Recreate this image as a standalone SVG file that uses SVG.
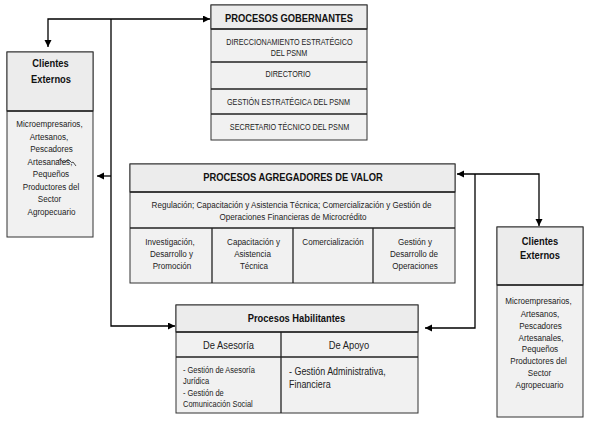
<svg xmlns="http://www.w3.org/2000/svg" width="598" height="425" viewBox="0 0 598 425">
<style>
.box{fill:#f1f1f1;stroke:#333;stroke-width:1}
.hdr{fill:#ececec;stroke:#333;stroke-width:1}
.div{stroke:#222;stroke-width:1.3;fill:none}
text{font-family:"Liberation Sans",Arial,sans-serif;fill:#222}
.t{font-size:9.5px;text-anchor:middle}
.s{font-size:8.5px;text-anchor:middle}
.b{font-size:11px;font-weight:bold;fill:#111;text-anchor:middle}
.m{font-size:11px;text-anchor:middle}
.l{font-size:8.8px}
.r{font-size:10.5px}
.c{stroke:#000;stroke-width:1.3;fill:none}
</style>
<defs>
<marker id="ah" markerUnits="userSpaceOnUse" markerWidth="8" markerHeight="8" refX="7" refY="3.5" orient="auto-start-reverse">
<path d="M0,0 L7,3.5 L0,7 z" fill="#000"/>
</marker>
</defs>
<rect width="598" height="425" fill="#fff"/>

<g id="connectors">
<path class="c" d="M48,47 V19 H210" marker-start="url(#ah)" marker-end="url(#ah)"/>
<path class="c" d="M111,19 V326 H175" marker-end="url(#ah)"/>
<path class="c" d="M111,176 H97" marker-end="url(#ah)"/>
<path class="c" d="M539,226 V174 H457" marker-start="url(#ah)" marker-end="url(#ah)"/>
<path class="c" d="M475,174 V328 H425" marker-end="url(#ah)"/>
</g>

<g id="gobernantes">
<rect class="box" x="211" y="5" width="156" height="135"/>
<rect class="hdr" x="211" y="5" width="156" height="24"/>
<line class="div" x1="211" y1="29" x2="367" y2="29"/>
<line class="div" x1="211" y1="62" x2="367" y2="62"/>
<line class="div" x1="211" y1="89" x2="367" y2="89"/>
<line class="div" x1="211" y1="114" x2="367" y2="114"/>
<text class="b" transform="translate(289 22) scale(.85 1)">PROCESOS GOBERNANTES</text>
<text class="s" transform="translate(289.5 45) scale(.85 1)">DIRECCIONAMIENTO ESTRATÉGICO</text>
<text class="s" transform="translate(289 56) scale(.85 1)">DEL PSNM</text>
<text class="s" transform="translate(288 77) scale(.85 1)">DIRECTORIO</text>
<text class="s" transform="translate(288.5 105) scale(.85 1)">GESTIÓN ESTRATÉGICA DEL PSNM</text>
<text class="s" transform="translate(289.5 130) scale(.85 1)">SECRETARIO TÉCNICO DEL PSNM</text>
</g>

<g id="clientes-izq">
<rect class="box" x="7" y="52" width="86" height="185"/>
<rect class="hdr" x="7" y="52" width="86" height="59"/>
<line class="div" x1="7" y1="111" x2="93" y2="111"/>
<text class="b" transform="translate(50.5 67) scale(.85 1)">Clientes</text>
<text class="b" transform="translate(51 83) scale(.85 1)">Externos</text>
<text class="t" transform="translate(49.5 127) scale(.85 1)">Microempresarios,</text>
<text class="t" transform="translate(49 139.5) scale(.85 1)">Artesanos,</text>
<text class="t" transform="translate(51.5 152) scale(.85 1)">Pescadores</text>
<text class="t" transform="translate(50 164.5) scale(.85 1)">Artesanales,</text>
<path d="M58,161 q2,-3 4,0 t4,0 t4,0 t3,1 l3,4" fill="none" stroke="#222" stroke-width="0.8"/>
<text class="t" transform="translate(51 177) scale(.85 1)">Pequeños</text>
<text class="t" transform="translate(51 189.5) scale(.85 1)">Productores del</text>
<text class="t" transform="translate(49.5 202) scale(.85 1)">Sector</text>
<text class="t" transform="translate(51.5 214.5) scale(.85 1)">Agropecuario</text>
</g>

<g id="agregadores">
<rect class="box" x="130" y="164" width="325" height="119"/>
<rect class="hdr" x="130" y="164" width="325" height="28"/>
<line class="div" x1="130" y1="192" x2="455" y2="192"/>
<line class="div" x1="130" y1="228" x2="455" y2="228"/>
<line class="div" x1="212" y1="228" x2="212" y2="283"/>
<line class="div" x1="293" y1="228" x2="293" y2="283"/>
<line class="div" x1="373" y1="228" x2="373" y2="283"/>
<text class="b" transform="translate(293 181) scale(.85 1)">PROCESOS AGREGADORES DE VALOR</text>
<text class="t" transform="translate(291.5 207.5) scale(.85 1)">Regulación; Capacitación y Asistencia Técnica; Comercialización y Gestión de</text>
<text class="t" transform="translate(293 219.5) scale(.85 1)">Operaciones Financieras de Microcrédito</text>
<text class="t" transform="translate(170 245) scale(.85 1)">Investigación,</text>
<text class="t" transform="translate(171.5 257) scale(.85 1)">Desarrollo y</text>
<text class="t" transform="translate(172 268.5) scale(.85 1)">Promoción</text>
<text class="t" transform="translate(253.5 245) scale(.85 1)">Capacitación y</text>
<text class="t" transform="translate(252.5 257) scale(.85 1)">Asistencia</text>
<text class="t" transform="translate(254 268.5) scale(.85 1)">Técnica</text>
<text class="t" transform="translate(333 244.5) scale(.85 1)">Comercialización</text>
<text class="t" transform="translate(415 245) scale(.85 1)">Gestión y</text>
<text class="t" transform="translate(414 257) scale(.85 1)">Desarrollo de</text>
<text class="t" transform="translate(415 268.5) scale(.85 1)">Operaciones</text>
</g>

<g id="clientes-der">
<rect class="box" x="497" y="227" width="86" height="190"/>
<rect class="hdr" x="497" y="227" width="86" height="58"/>
<line class="div" x1="497" y1="285" x2="583" y2="285"/>
<text class="b" transform="translate(540 245) scale(.85 1)">Clientes</text>
<text class="b" transform="translate(540 258.5) scale(.85 1)">Externos</text>
<text class="t" transform="translate(538.5 304) scale(.85 1)">Microempresarios,</text>
<text class="t" transform="translate(540 316.5) scale(.85 1)">Artesanos,</text>
<text class="t" transform="translate(540.5 328.5) scale(.85 1)">Pescadores</text>
<text class="t" transform="translate(541 340.5) scale(.85 1)">Artesanales,</text>
<text class="t" transform="translate(540 352) scale(.85 1)">Pequeños</text>
<text class="t" transform="translate(538.5 364) scale(.85 1)">Productores del</text>
<text class="t" transform="translate(539.5 376) scale(.85 1)">Sector</text>
<text class="t" transform="translate(539.5 387.5) scale(.85 1)">Agropecuario</text>
</g>

<g id="habilitantes">
<rect class="box" x="176" y="305" width="242" height="108"/>
<rect class="hdr" x="176" y="305" width="242" height="27"/>
<line class="div" x1="176" y1="332" x2="418" y2="332"/>
<line class="div" x1="176" y1="357" x2="418" y2="357"/>
<line class="div" x1="281" y1="332" x2="281" y2="413"/>
<text class="b" transform="translate(296.5 322) scale(.85 1)">Procesos Habilitantes</text>
<text class="m" transform="translate(228.5 349) scale(.85 1)">De Asesoría</text>
<text class="m" transform="translate(349 349) scale(.85 1)">De Apoyo</text>
<text class="l" transform="translate(183 373) scale(.85 1)">- Gestión de Asesoría</text>
<text class="l" transform="translate(183 384) scale(.85 1)">Jurídica</text>
<text class="l" transform="translate(183 395.5) scale(.85 1)">-  Gestión de</text>
<text class="l" transform="translate(183 407) scale(.85 1)">Comunicación Social</text>
<text class="r" transform="translate(289 375) scale(.85 1)">-  Gestión Administrativa,</text>
<text class="r" transform="translate(289 388) scale(.85 1)">Financiera</text>
</g>
</svg>
